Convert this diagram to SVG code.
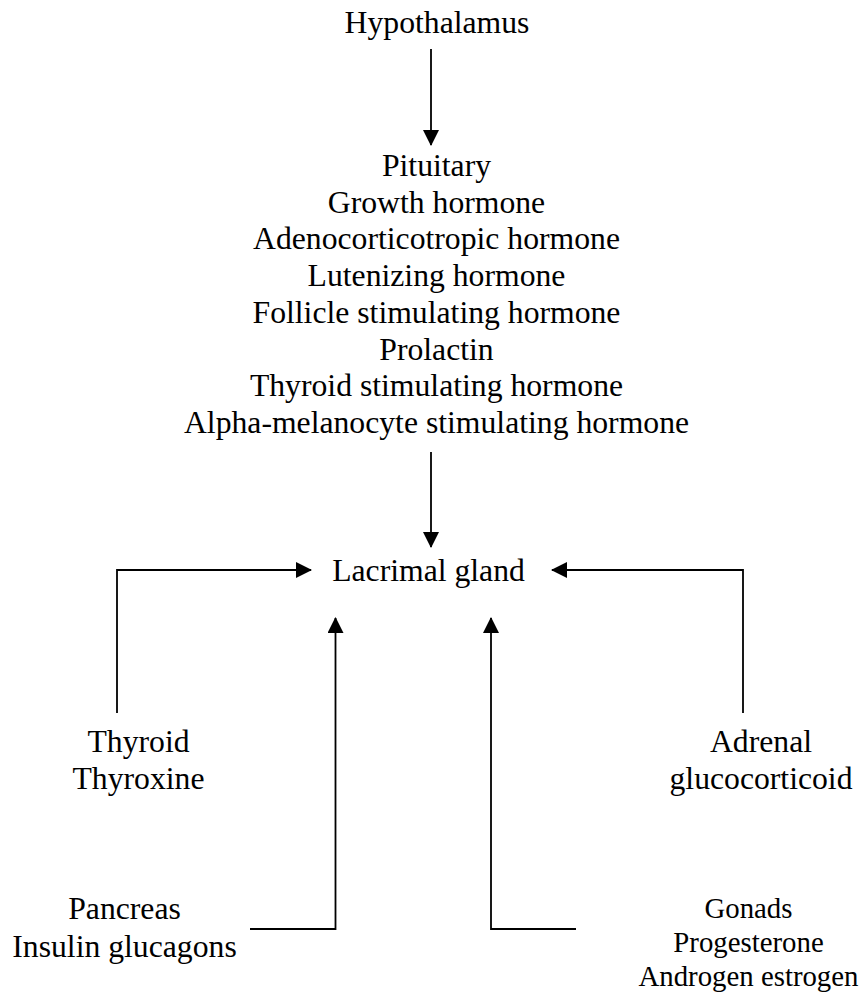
<svg xmlns="http://www.w3.org/2000/svg" width="863" height="992" viewBox="0 0 863 992">
<style>
text{font-family:"Liberation Serif","Times New Roman",serif;fill:#000;text-anchor:middle}
.t{font-size:31.7px}
.s{font-size:28.8px}
.c{fill:none;stroke:#000;stroke-width:1.8}
</style>
<defs>
<marker id="ah" markerUnits="userSpaceOnUse" markerWidth="16" markerHeight="16" refX="15" refY="8" orient="auto" viewBox="0 0 16 16">
<path d="M0,0 L16,8 L0,16 z" fill="#000"/>
</marker>
</defs>
<rect width="863" height="992" fill="#fff"/>
<g id="hypothalamus"><text class="t" x="437" y="33">Hypothalamus</text></g>
<g id="pituitary">
<text class="t" x="436.5" y="176">Pituitary</text>
<text class="t" x="436.5" y="212.7">Growth hormone</text>
<text class="t" x="436.5" y="249.4">Adenocorticotropic hormone</text>
<text class="t" x="436.5" y="286.1">Lutenizing hormone</text>
<text class="t" x="436.5" y="322.8">Follicle stimulating hormone</text>
<text class="t" x="436.5" y="359.5">Prolactin</text>
<text class="t" x="436.5" y="396.2">Thyroid stimulating hormone</text>
<text class="t" x="436.5" y="432.9">Alpha-melanocyte stimulating hormone</text>
</g>
<g id="lacrimal"><text class="t" x="428.5" y="581">Lacrimal gland</text></g>
<g id="thyroid">
<text class="t" x="138.5" y="752">Thyroid</text>
<text class="t" x="138.5" y="789">Thyroxine</text>
</g>
<g id="adrenal">
<text class="t" x="761" y="752">Adrenal</text>
<text class="t" x="761" y="789">glucocorticoid</text>
</g>
<g id="pancreas">
<text class="t" x="124.5" y="919">Pancreas</text>
<text class="t" x="124.5" y="957">Insulin glucagons</text>
</g>
<g id="gonads">
<text class="s" x="748.5" y="918">Gonads</text>
<text class="s" x="748.5" y="952">Progesterone</text>
<text class="s" x="748.5" y="985.5">Androgen estrogen</text>
</g>
<g id="connectors">
<path class="c" d="M431,49 V145" marker-end="url(#ah)"/>
<path class="c" d="M431,452 V547" marker-end="url(#ah)"/>
<path class="c" d="M117,713 V570 H311" marker-end="url(#ah)"/>
<path class="c" d="M743,713 V570 H552" marker-end="url(#ah)"/>
<path class="c" d="M250,929 H335.5 V618" marker-end="url(#ah)"/>
<path class="c" d="M576,929 H491 V618" marker-end="url(#ah)"/>
</g>
</svg>
